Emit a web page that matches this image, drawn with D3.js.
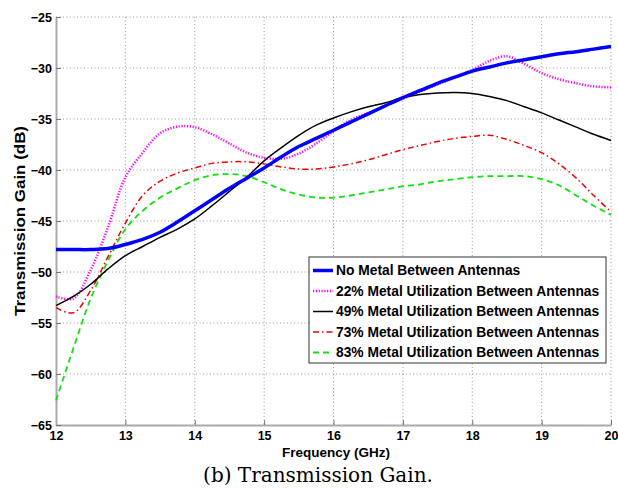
<!DOCTYPE html>
<html>
<head>
<meta charset="utf-8">
<script src="https://cdn.jsdelivr.net/npm/d3@7"></script>
<style>
body { margin:0; background:#fff; }
text { font-family: "Liberation Sans", Arial, sans-serif; }
</style>
</head>
<body>
<div id="chart-container"></div>
<script>
// data, one value per 0.25 GHz
const freq = [12, 12.25, 12.5, 12.75, 13, 13.25, 13.5, 13.75, 14, 14.25, 14.5, 14.75, 15, 15.25, 15.5, 15.75,
  16, 16.25, 16.5, 16.75, 17, 17.25, 17.5, 17.75, 18, 18.25, 18.5, 18.75, 19, 19.25, 19.5, 19.75, 20];

const noMetal = [-47.8, -47.8, -47.8, -47.7, -47.3, -46.8, -46.1, -45.1, -44.0, -42.9, -41.8, -40.8, -39.8, -38.7, -37.7, -36.9,
  -36.1, -35.3, -34.5, -33.7, -32.9, -32.2, -31.5, -30.9, -30.3, -29.9, -29.5, -29.2, -28.9, -28.6, -28.4, -28.15, -27.9];
const metal22 = [-52.4, -52.6, -49.8, -45.6, -40.7, -38.3, -36.4, -35.75, -35.8, -36.5, -37.4, -38.3, -38.8, -38.9, -38.4, -37.4,
  -36.2, -35.1, -34.4, -33.7, -33.0, -32.3, -31.6, -30.9, -30.2, -29.3, -28.85, -29.6, -30.5, -31.1, -31.5, -31.8, -31.9];
const metal49 = [-53.3, -52.4, -51.2, -49.7, -48.4, -47.5, -46.6, -45.8, -44.8, -43.5, -42.1, -40.7, -39.1, -37.8, -36.6, -35.6,
  -34.9, -34.3, -33.8, -33.4, -32.9, -32.6, -32.45, -32.4, -32.5, -32.8, -33.2, -33.8, -34.4, -35.1, -35.8, -36.5, -37.1];
const metal73 = [-53.5, -54.0, -51.8, -48.5, -45.2, -42.5, -41.1, -40.3, -39.8, -39.35, -39.2, -39.2, -39.4, -39.7, -39.9, -39.9,
  -39.7, -39.4, -39.0, -38.5, -38.0, -37.6, -37.2, -36.9, -36.7, -36.6, -37.0, -37.6, -38.3, -39.4, -40.8, -42.5, -44.1];
const metal83 = [-62.6, -57.5, -52.6, -48.9, -45.8, -44.0, -42.7, -41.8, -41.0, -40.5, -40.4, -40.6, -41.2, -41.9, -42.4, -42.7,
  -42.7, -42.5, -42.2, -41.9, -41.6, -41.4, -41.1, -40.9, -40.7, -40.6, -40.6, -40.6, -40.9, -41.5, -42.5, -43.5, -44.4];

const seriesNames = ["No Metal Between Antennas", "22% Metal Utilization Between Antennas",
  "49% Metal Utilization Between Antennas", "73% Metal Utilization Between Antennas",
  "83% Metal Utilization Between Antennas"];

const xTicks = [12, 13, 14, 15, 16, 17, 18, 19, 20];
const yTicks = [-25, -30, -35, -40, -45, -50, -55, -60, -65];

// set the dimensions and margins
const margin = {top:17, right:7, bottom:64, left:56};
const width = 618 - margin.left - margin.right;
const height = 489 - margin.top - margin.bottom;

const x = d3.scaleLinear().domain([12, 20]).range([0, width]);
const y = d3.scaleLinear().domain([-65, -25]).range([height, 0]);

const root = d3.select("#chart-container")
.append("svg")
.attr("width", 618)
.attr("height", 489);

const svg = root.append("g")
.attr("transform", `translate(${margin.left},${margin.top})`);

// gridlines (dotted)
svg.selectAll(".xGrid")
.data(xTicks.slice(1))
.join("line")
.attr("x1", d => x(d)).attr("x2", d => x(d))
.attr("y1", 0).attr("y2", height)
.attr("stroke", "#9a9a9a")
.attr("stroke-width", 1)
.attr("stroke-dasharray", "1,2.5");

svg.selectAll(".yGrid")
.data(yTicks.slice(0, -1))
.join("line")
.attr("x1", 0).attr("x2", width)
.attr("y1", d => y(d)).attr("y2", d => y(d))
.attr("stroke", "#9a9a9a")
.attr("stroke-width", 1)
.attr("stroke-dasharray", "1,2.5");

// x axis
svg.append("g")
.attr("transform", `translate(0,${height})`)
.call(d3.axisBottom(x).tickValues(xTicks).tickFormat(d3.format("d")).tickSizeInner(-5).tickSizeOuter(0).tickPadding(6))
.call(g => g.select(".domain").attr("stroke", "#aaa").attr("stroke-width", 2))
.call(g => g.selectAll(".tick line").attr("stroke", "#777"))
.selectAll(".tick text")
.style("font-size", "12.5px").style("font-weight", "bold").attr("fill", "#000");

// y axis
svg.append("g")
.call(d3.axisLeft(y).tickValues(yTicks).tickFormat(d3.format("d")).tickSizeInner(-5).tickSizeOuter(0).tickPadding(4))
.call(g => g.select(".domain").attr("stroke", "#aaa").attr("stroke-width", 2))
.call(g => g.selectAll(".tick line").attr("stroke", "#777"))
.selectAll(".tick text")
.style("font-size", "12.5px").style("font-weight", "bold").attr("fill", "#000");

// lines
const styles = [
  {color:"#0000ff", w:3.5, dash:null},
  {color:"#ff00ff", w:2.5, dash:"1.2,1.6"},
  {color:"#000000", w:1.5, dash:null},
  {color:"#ee0000", w:1.5, dash:"6,3,1.5,3"},
  {color:"#11e011", w:1.8, dash:"6,4"}
];
const allSeries = [noMetal, metal22, metal49, metal73, metal83];

const line = d3.line()
.x(d => x(d[0]))
.y(d => y(d[1]))
.curve(d3.curveCatmullRom.alpha(0.5));

// draw in back-to-front order like the reference
[4, 3, 1, 2, 0].forEach(i => {
  svg.append("path")
  .datum(freq.map((f, j) => [f, allSeries[i][j]]))
  .attr("fill", "none")
  .attr("stroke", styles[i].color)
  .attr("stroke-width", styles[i].w)
  .attr("stroke-dasharray", styles[i].dash)
  .attr("d", line);
});

// legend
const legend = root.append("g").attr("transform", "translate(309,257)");
legend.append("rect")
.attr("width", 297).attr("height", 106)
.attr("fill", "#fff").attr("stroke", "#333").attr("stroke-width", 1);

seriesNames.forEach((name, i) => {
  const ly = 13.5 + i * 20.5;
  legend.append("line")
  .attr("x1", 4).attr("x2", 24)
  .attr("y1", ly).attr("y2", ly)
  .attr("stroke", styles[i].color)
  .attr("stroke-width", styles[i].w)
  .attr("stroke-dasharray", styles[i].dash);
  legend.append("text")
  .attr("x", 27).attr("y", ly)
  .attr("dy", "0.36em")
  .style("font-size", "13.8px").style("font-weight", "bold")
  .text(name);
});

// axis labels
root.append("text")
.attr("transform", `translate(20,${margin.top + height / 2}) rotate(-90)`)
.attr("text-anchor", "middle")
.attr("dy", "0.35em")
.attr("textLength", 190).attr("lengthAdjust", "spacingAndGlyphs")
.style("font-size", "14px").style("font-weight", "bold")
.text("Transmission Gain (dB)");

root.append("text")
.attr("x", 336).attr("y", 457)
.attr("text-anchor", "middle")
.style("font-size", "13.5px").style("font-weight", "bold")
.text("Frequency (GHz)");

// caption
root.append("text")
.attr("x", 318).attr("y", 482)
.attr("text-anchor", "middle")
.style("font-family", "'DejaVu Serif', serif")
.style("font-size", "20px")
.text("(b) Transmission Gain.");
</script>
</body>
</html>
